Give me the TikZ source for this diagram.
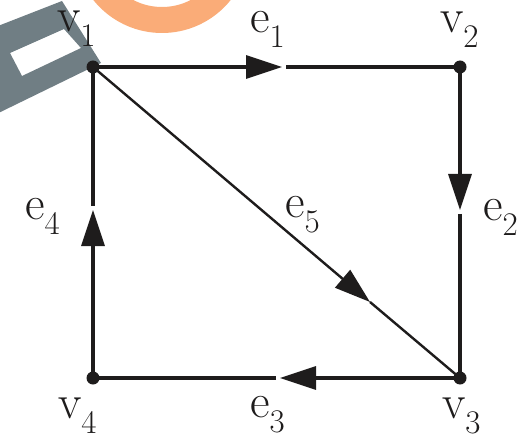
\documentclass[tikz,border=0pt]{standalone}
\usetikzlibrary{arrows.meta}
\definecolor{ink}{RGB}{30,28,28}
\definecolor{wmgray}{RGB}{112,126,132}
\definecolor{wmorange}{RGB}{250,172,120}
\newcommand{\lbl}[2]{{\fontsize{48}{48}\selectfont #1}\raisebox{-15pt}{\fontsize{33}{33}\selectfont #2}}
\tikzset{
  vertex/.style={circle,fill=ink,draw=none,inner sep=0pt,minimum size=13pt},
  edge/.style={draw=ink,line width=3.2pt},
  diag/.style={draw=ink,line width=2.4pt},
  head/.style={-{Triangle[length=36pt,width=23pt]}},
  lab/.style={inner sep=0pt,anchor=base west,text=ink}
}
\begin{document}
\begin{tikzpicture}[x=1pt,y=-1pt]
\useasboundingbox (0,0) rectangle (518,435);
% watermark
\begin{scope}
\clip (0,0) rectangle (518,435);
\fill[wmorange,even odd rule] (162,-55) circle (88pt) (162,-55) circle (62pt);
\fill[wmgray,even odd rule] (-20,33) -- (62,1) -- (101,63) -- (-20,122) -- cycle
  (10,53) -- (64,29) -- (81,48) -- (22,76) -- cycle;
\end{scope}
% vertices
\node[vertex] (v1) at (93,67) {};
\node[vertex] (v2) at (460,67) {};
\node[vertex] (v3) at (460,378) {};
\node[vertex] (v4) at (93,378) {};
% arrow tip positions and gap ends
\coordinate (t1) at (282,67);  \coordinate (r1) at (286,67);
\coordinate (t2) at (460,210); \coordinate (r2) at (460,214);
\coordinate (t3) at (280,378); \coordinate (r3) at (276,378);
\coordinate (t4) at (93,210);  \coordinate (r4) at (93,206);
\coordinate (t5) at (370,302);
% edges
\draw[edge,head] (v1.center) -- (t1); \draw[edge] (r1) -- (v2.center);
\draw[edge,head] (v2.center) -- (t2); \draw[edge] (r2) -- (v3.center);
\draw[edge,head] (v3.center) -- (t3); \draw[edge] (r3) -- (v4.center);
\draw[edge,head] (v4.center) -- (t4); \draw[edge] (r4) -- (v1.center);
\draw[diag,head] (v1.center) -- (t5); \draw[diag] (t5) -- (v3.center);
% labels
\node[lab] (lv1) at (57,32) {\lbl{v}{1}};
\node[lab] (lv2) at (440,33) {\lbl{v}{2}};
\node[lab] (lv3) at (442,418) {\lbl{v}{3}};
\node[lab] (lv4) at (58,418) {\lbl{v}{4}};
\node[lab] (le1) at (250,33) {\lbl{e}{1}};
\node[lab] (le2) at (483,221) {\lbl{e}{2}};
\node[lab] (le3) at (250,417) {\lbl{e}{3}};
\node[lab] (le4) at (25,219) {\lbl{e}{4}};
\node[lab] (le5) at (285,218) {\lbl{e}{5}};
\end{tikzpicture}
\end{document}
